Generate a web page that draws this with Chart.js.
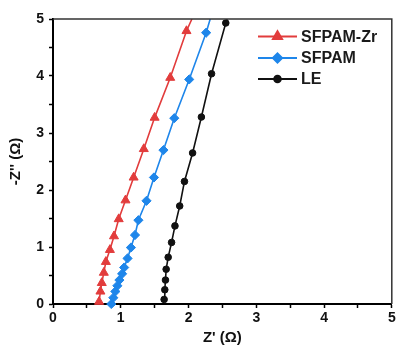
<!DOCTYPE html>
<html>
<head>
<meta charset="utf-8">
<script src="https://cdn.jsdelivr.net/npm/chart.js@4/dist/chart.umd.min.js"></script>
<style>
  html, body { margin: 0; padding: 0; background: #fff; }
  #wrap { width: 398px; height: 347px; }
</style>
</head>
<body>
<div id="wrap"><canvas id="nyquist" width="398" height="347"></canvas></div>
<script>
// series values (Z' , -Z'')
// last entry of each series is where the line leaves the plot at the top (no marker)
const zrRe = [0.68, 0.70, 0.72, 0.75, 0.78, 0.84, 0.90, 0.97, 1.07, 1.19, 1.34, 1.50, 1.73, 1.97, 2.05];
const zrIm = [0.04, 0.22, 0.37, 0.55, 0.74, 0.95, 1.19, 1.49, 1.82, 2.22, 2.72, 3.27, 3.97, 4.79, 5.00];

const sfRe = [0.86, 0.89, 0.92, 0.95, 0.98, 1.02, 1.05, 1.10, 1.15, 1.21, 1.26, 1.38, 1.49, 1.63, 1.79, 2.01, 2.26, 2.32];
const sfIm = [0.00, 0.11, 0.22, 0.32, 0.42, 0.53, 0.64, 0.80, 0.99, 1.21, 1.47, 1.81, 2.22, 2.70, 3.26, 3.94, 4.76, 5.00];

const leRe = [1.64, 1.65, 1.66, 1.67, 1.70, 1.75, 1.80, 1.87, 1.94, 2.06, 2.19, 2.34, 2.55, 2.57];
const leIm = [0.08, 0.25, 0.42, 0.61, 0.82, 1.08, 1.37, 1.72, 2.15, 2.65, 3.28, 4.04, 4.93, 5.00];

const seriesNames = ['SFPAM-Zr', 'SFPAM', 'LE'];
const xTicks = [0, 1, 2, 3, 4, 5];
const yTicks = [0, 1, 2, 3, 4, 5];

const colors = {
    zr: '#e23c3c', // red
    sf: '#1e86ea', // blue
    le: '#111111'  // black
};

const FONT = "'Liberation Sans', Arial, sans-serif";

function toPoints(xs, ys) {
    return xs.map((x, i) => ({ x: x, y: ys[i] }));
}

// no marker on the last (edge) point
function radiusList(n, r) {
    return Array.from({ length: n }, (_, i) => (i === n - 1 ? 0 : r));
}

// box on top/right side plus minor ticks, legend with line+marker
const framePlugin = {
    id: 'frame',
    afterDraw(chart) {
        const ctx = chart.ctx;
        const a = chart.chartArea;
        ctx.save();
        ctx.strokeStyle = '#333';
        ctx.lineWidth = 1.5;
        ctx.beginPath();
        ctx.moveTo(a.left, a.top);
        ctx.lineTo(a.right, a.top);
        ctx.lineTo(a.right, a.bottom);
        ctx.stroke();

        // legend
        const rows = [36.5, 58, 79];
        chart.data.datasets.forEach((ds, i) => {
            const y = rows[i];
            ctx.strokeStyle = ds.borderColor;
            ctx.lineWidth = 2;
            ctx.beginPath();
            ctx.moveTo(258, y);
            ctx.lineTo(297, y);
            ctx.stroke();
            Chart.helpers.drawPoint(ctx, {
                pointStyle: ds.pointStyle,
                radius: ds.legendRadius,
                borderWidth: 1
            }, 277.5, y);
            ctx.fillStyle = ds.borderColor;
            ctx.fill();
            ctx.fillStyle = '#1a1a1a';
            ctx.font = 'bold 16px ' + FONT;
            ctx.textBaseline = 'middle';
            ctx.textAlign = 'left';
            ctx.fillText(ds.label, 301, y + 1);
        });
        ctx.restore();
    }
};

function makeSet(label, xs, ys, color, style, r) {
    return {
        label: label,
        data: toPoints(xs, ys),
        showLine: true,
        borderColor: color,
        backgroundColor: color,
        pointBackgroundColor: color,
        pointBorderColor: color,
        pointBorderWidth: 1,
        borderWidth: 1.6,
        pointStyle: style,
        pointRadius: radiusList(xs.length, r),
        legendRadius: r,
        clip: { left: 0, top: 0, right: 0, bottom: 10 }
    };
}

const chart = new Chart(document.getElementById('nyquist').getContext('2d'), {
    type: 'scatter',
    data: {
        datasets: [
            makeSet(seriesNames[0], zrRe, zrIm, colors.zr, 'triangle', 5.2),
            makeSet(seriesNames[1], sfRe, sfIm, colors.sf, 'rectRot', 4.6),
            makeSet(seriesNames[2], leRe, leIm, colors.le, 'circle', 3.3)
        ]
    },
    options: {
        responsive: false,
        animation: false,
        layout: { padding: { top: 19, right: 3, left: 0, bottom: 0 } },
        plugins: {
            legend: { display: false },
            tooltip: { enabled: false }
        },
        scales: {
            x: {
                type: 'linear',
                min: 0,
                max: 5,
                border: { display: true, color: '#000', width: 2 },
                grid: { drawOnChartArea: false, drawTicks: true, tickLength: 4, tickColor: '#000', tickWidth: 1.5 },
                ticks: {
                    stepSize: 0.5,
                    autoSkip: false,
                    maxRotation: 0,
                    padding: 2,
                    color: '#111',
                    font: { family: FONT, size: 14, weight: 'bold' },
                    callback: v => (xTicks.includes(v) ? v : '')
                },
                title: {
                    display: true,
                    text: "Z' (Ω)",
                    color: '#111',
                    font: { family: FONT, size: 15, weight: 'bold' },
                    padding: { top: 2, bottom: 0 }
                },
                afterFit: s => { s.height = 43; s.paddingLeft = 0; s.paddingRight = 0; }
            },
            y: {
                type: 'linear',
                min: 0,
                max: 5,
                border: { display: true, color: '#000', width: 2 },
                grid: { drawOnChartArea: false, drawTicks: true, tickLength: 4, tickColor: '#000', tickWidth: 1.5 },
                ticks: {
                    stepSize: 0.5,
                    autoSkip: false,
                    padding: 5,
                    color: '#111',
                    font: { family: FONT, size: 14, weight: 'bold' },
                    callback: v => (yTicks.includes(v) ? v : '')
                },
                title: {
                    display: true,
                    text: "-Z'' (Ω)",
                    color: '#111',
                    font: { family: FONT, size: 15, weight: 'bold' },
                    padding: { top: 7, bottom: 0 }
                },
                afterFit: s => { s.width = 53; s.paddingTop = 0; s.paddingBottom = 0; }
            }
        }
    },
    plugins: [framePlugin]
});
</script>
</body>
</html>
